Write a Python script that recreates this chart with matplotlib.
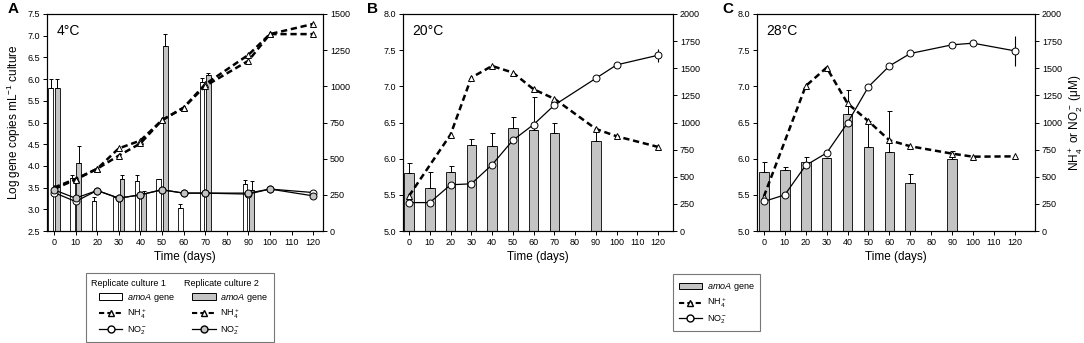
import numpy as np
import matplotlib
matplotlib.use('Agg')
import matplotlib.pyplot as plt
from matplotlib.patches import Patch
from matplotlib.lines import Line2D
from matplotlib.offsetbox import DrawingArea

plt.rcParams['font.family'] = ['Liberation Sans', 'DejaVu Sans']
plt.rcParams['mathtext.fontset'] = 'custom'
plt.rcParams['mathtext.rm'] = 'Liberation Sans'
plt.rcParams['mathtext.it'] = 'Liberation Sans:italic'
plt.rcParams['axes.linewidth'] = 0.8

# ---- panel A (4°C), two replicate cultures ----
a_days1 = [0, 10, 20, 30, 40, 50, 60, 70, 90]
a_gene1 = [5.79, 3.72, 3.18, 3.28, 3.66, 3.70, 3.03, 5.93, 3.59]
a_gene1_err = [0.21, 0.08, 0.11, 0.0, 0.14, 0.0, 0.10, 0.10, 0.09]
a_days2 = [0, 10, 30, 40, 50, 70, 90]
a_gene2 = [5.79, 4.07, 3.70, 3.38, 6.77, 6.10, 3.45]
a_gene2_err = [0.21, 0.40, 0.10, 0.04, 0.26, 0.05, 0.21]
a_line_days = [0, 10, 20, 30, 40, 50, 60, 70, 90, 100, 120]
a_nh1 = [300, 360, 430, 571, 625, 766, 852, 1014, 1217, 1361, 1431]
a_nh2 = [290, 355, 430, 521, 605, 766, 852, 1002, 1176, 1361, 1361]
a_no1 = [266, 204, 280, 227, 250, 285, 262, 262, 255, 290, 266]
a_no2 = [285, 227, 280, 227, 250, 285, 262, 262, 262, 290, 243]

# ---- panel B (20°C) ----
b_days = [0, 10, 20, 30, 40, 50, 60, 70, 90]
b_gene = [5.80, 5.59, 5.81, 6.19, 6.17, 6.43, 6.39, 6.36, 6.24]
b_gene_err = [0.14, 0.23, 0.09, 0.08, 0.19, 0.14, 0.46, 0.14, 0.14]
b_nh_days = [0, 20, 30, 40, 50, 60, 70, 90, 100, 120]
b_nh = [324, 889, 1414, 1521, 1460, 1306, 1219, 941, 873, 775]
b_no_days = [0, 10, 20, 30, 40, 50, 60, 70, 90, 100, 120]
b_no = [262, 262, 426, 435, 611, 836, 981, 1160, 1407, 1531, 1620]
b_no_err = [0, 0, 0, 0, 0, 0, 0, 0, 0, 0, 60]

# ---- panel C (28°C) ----
c_days = [0, 10, 20, 30, 40, 50, 60, 70, 90]
c_gene = [5.81, 5.85, 5.95, 6.01, 6.62, 6.16, 6.09, 5.66, 5.99]
c_gene_err = [0.14, 0.03, 0.08, 0.0, 0.33, 0.36, 0.57, 0.13, 0.12]
c_nh_days = [0, 20, 30, 40, 50, 60, 70, 90, 100, 120]
c_nh = [318, 1336, 1506, 1176, 1012, 836, 781, 713, 685, 688]
c_no_days = [0, 10, 20, 30, 40, 50, 60, 70, 90, 100, 120]
c_no = [272, 333, 605, 719, 997, 1330, 1521, 1636, 1716, 1731, 1660]
c_no_err = [0, 0, 0, 0, 0, 0, 0, 0, 0, 0, 140]

grey = '#c4c4c4'
fs_tick = 6.5
fs_lab = 8.5
dash = (0, (2.5, 1.5))

fig = plt.figure(figsize=(10.84, 3.43), dpi=100)
axA = fig.add_axes([0.0434, 0.3265, 0.2546, 0.6327])
axB = fig.add_axes([0.3718, 0.3265, 0.2491, 0.6327])
axC = fig.add_axes([0.6983, 0.3265, 0.2565, 0.6327])


def style(ax, ax2, xlim, ylim, yticks, ylim2, yticks2):
    ax.set_xlim(xlim)
    ax.set_ylim(ylim)
    ax.set_xticks(np.arange(0, 121, 10))
    ax.set_yticks(yticks)
    ax.set_yticklabels(['%.1f' % v for v in yticks])
    ax2.set_ylim(ylim2)
    ax2.set_yticks(yticks2)
    for a in (ax, ax2):
        a.tick_params(direction='out', length=3, width=0.7, labelsize=fs_tick, pad=2)
    ax.set_xlabel('Time (days)', fontsize=fs_lab, labelpad=3)


def lines(ax2, days, vals, ls, marker, fc, err=None, lw=0.9):
    ax2.errorbar(days, vals, yerr=err, color='k', ls=ls, lw=lw, marker=marker,
                 mfc=fc, mec='k', mew=0.7, ms=5 if marker == 'o' else 4.6,
                 ecolor='k', elinewidth=0.8, capsize=0, zorder=3)


# panel A
bw = 2.2
up1 = [np.zeros(len(a_gene1_err)), a_gene1_err]
up2 = [np.zeros(len(a_gene2_err)), a_gene2_err]
axA.bar(np.array(a_days1) - 1.5, np.array(a_gene1) - 2.5, bottom=2.5, width=bw,
        color='white', edgecolor='k', lw=0.6, yerr=up1, capsize=1.5,
        error_kw=dict(elinewidth=0.7, capthick=0.7))
axA.bar(np.array(a_days2) + 1.5, np.array(a_gene2) - 2.5, bottom=2.5, width=bw,
        color=grey, edgecolor='k', lw=0.6, yerr=up2, capsize=1.5,
        error_kw=dict(elinewidth=0.7, capthick=0.7))
axA2 = axA.twinx()
lines(axA2, a_line_days, a_nh1, dash, '^', 'white', lw=1.8)
lines(axA2, a_line_days, a_nh2, dash, '^', 'white', lw=1.8)
lines(axA2, a_line_days, a_no1, '-', 'o', 'white')
lines(axA2, a_line_days, a_no2, '-', 'o', grey)
style(axA, axA2, (-3.2, 124.6), (2.5, 7.5), np.arange(2.5, 7.51, 0.5),
      (0, 1500), np.arange(0, 1501, 250))
axA.set_ylabel('Log gene copies mL$^{-1}$ culture', fontsize=fs_lab, labelpad=3)
axA.text(0.035, 0.955, '4°C', transform=axA.transAxes, fontsize=10, va='top')

# panel B
bw2 = 4.6
axB.bar(b_days, np.array(b_gene) - 5, bottom=5, width=bw2, color=grey,
        edgecolor='k', lw=0.6, yerr=[np.zeros(len(b_gene_err)), b_gene_err],
        capsize=1.8, error_kw=dict(elinewidth=0.7, capthick=0.7))
axB2 = axB.twinx()
lines(axB2, b_nh_days, b_nh, dash, '^', 'white', lw=1.8)
lines(axB2, b_no_days, b_no, '-', 'o', 'white', err=b_no_err)
style(axB, axB2, (-2.9, 127.2), (5, 8), np.arange(5, 8.01, 0.5),
      (0, 2000), np.arange(0, 2001, 250))
axB.text(0.035, 0.955, '20°C', transform=axB.transAxes, fontsize=10, va='top')

# panel C
axC.bar(c_days, np.array(c_gene) - 5, bottom=5, width=bw2, color=grey,
        edgecolor='k', lw=0.6, yerr=[np.zeros(len(c_gene_err)), c_gene_err],
        capsize=1.8, error_kw=dict(elinewidth=0.7, capthick=0.7))
axC2 = axC.twinx()
lines(axC2, c_nh_days, c_nh, dash, '^', 'white', lw=1.8)
lines(axC2, c_no_days, c_no, '-', 'o', 'white', err=c_no_err)
style(axC, axC2, (-3.3, 129.6), (5, 8), np.arange(5, 8.01, 0.5),
      (0, 2000), np.arange(0, 2001, 250))
axC.text(0.035, 0.955, '28°C', transform=axC.transAxes, fontsize=10, va='top')
axC2.set_ylabel('NH$_4^+$ or NO$_2^-$ (μM)', fontsize=fs_lab, labelpad=4)

# panel letters
for x, s in [(0.007, 'A'), (0.339, 'B'), (0.666, 'C')]:
    fig.text(x, 0.995, s, fontsize=11, fontweight='bold', va='top')

# legends
blank = Patch(facecolor='none', edgecolor='none')
h_bar1 = Patch(facecolor='white', edgecolor='k', lw=0.7)
h_bar2 = Patch(facecolor=grey, edgecolor='k', lw=0.7)
h_nh = Line2D([], [], color='k', ls=dash, lw=1.5, marker='^', mfc='white', mec='k', ms=4.6)
h_no1 = Line2D([], [], color='k', lw=0.9, marker='o', mfc='white', mec='k', ms=5)
h_no2 = Line2D([], [], color='k', lw=0.9, marker='o', mfc=grey, mec='k', ms=5)
gene_lab = '$\\mathit{amoA}$ gene'
legA = fig.legend([blank, h_bar1, h_nh, h_no1, blank, h_bar2, h_nh, h_no2],
                  ['Replicate culture 1', gene_lab, 'NH$_4^+$', 'NO$_2^-$',
                   'Replicate culture 2', gene_lab, 'NH$_4^+$', 'NO$_2^-$'],
                  ncol=2, loc='center', bbox_to_anchor=(0.1656, 0.103),
                  fontsize=6.5, frameon=True, fancybox=False, edgecolor='#555555',
                  handlelength=2.6, handletextpad=0.5, columnspacing=1.1,
                  labelspacing=0.35, borderpad=0.6)
legA.get_frame().set_linewidth(0.8)
# header rows lose their empty handle, the other rows get a small indent
for col in legA._legend_handle_box.get_children():
    rows = col.get_children()
    del rows[0].get_children()[0]
    for row in rows[1:]:
        row.get_children().insert(0, DrawingArea(2.5, 1))

legB = fig.legend([h_bar2, h_nh, h_no1], [gene_lab, 'NH$_4^+$', 'NO$_2^-$'],
                  loc='center', bbox_to_anchor=(0.661, 0.117), fontsize=6.5,
                  frameon=True, fancybox=False, edgecolor='#555555',
                  handlelength=2.6, handletextpad=0.5, labelspacing=0.35,
                  borderpad=0.6)
legB.get_frame().set_linewidth(0.8)

fig.savefig('out.png', dpi=100)
